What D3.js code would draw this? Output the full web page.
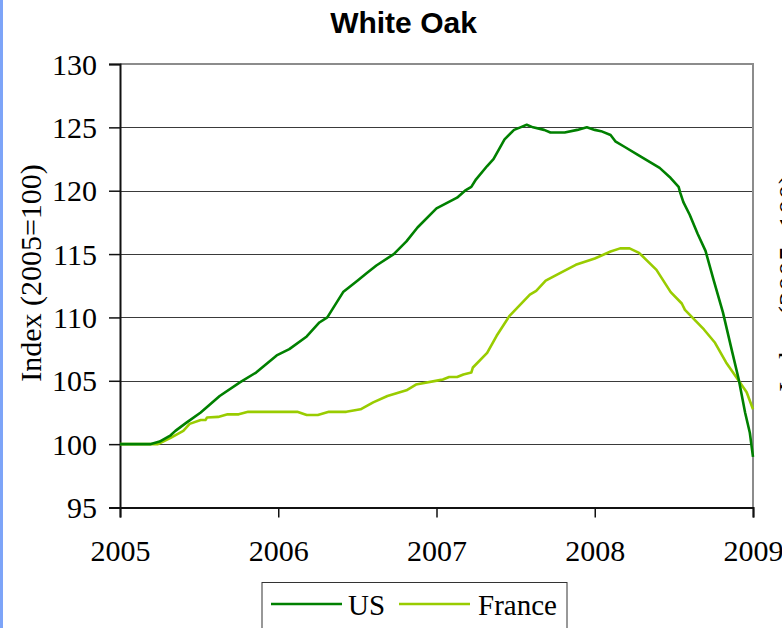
<!DOCTYPE html>
<html><head><meta charset="utf-8">
<script src="https://cdn.jsdelivr.net/npm/d3@7"></script>
<style>
html,body{margin:0;padding:0;background:#fff;overflow:hidden;}
svg{display:block;}
</style></head>
<body>
<script>
const title = "White Oak";
const yLabel = "Index (2005=100)";
const yTicks = [95,100,105,110,115,120,125,130];
const xTicks = [2005,2006,2007,2008,2009];
const seriesNames = ["US","France"];
const seriesColors = ["#008000","#99cc00"];

const usT = [2005.00,2005.19,2005.25,2005.32,2005.35,2005.42,2005.51,2005.63,2005.76,2005.86,2005.99,2006.07,2006.18,2006.26,2006.31,2006.41,2006.50,2006.56,2006.62,2006.73,2006.81,2006.88,2007.00,2007.13,2007.18,2007.22,2007.25,2007.32,2007.36,2007.43,2007.49,2007.53,2007.57,2007.61,2007.68,2007.72,2007.81,2007.89,2007.95,2008.00,2008.04,2008.10,2008.13,2008.19,2008.27,2008.41,2008.48,2008.53,2008.54,2008.56,2008.60,2008.65,2008.70,2008.75,2008.81,2008.87,2008.91,2008.95,2008.98,2009.00];
const usV = [100,100,100.2,100.7,101.05,101.7,102.5,103.8,104.9,105.65,107.0,107.5,108.5,109.6,110.0,112.0,112.9,113.5,114.1,115.0,116.0,117.1,118.6,119.45,120.0,120.3,120.9,121.95,122.5,124.05,124.8,125.0,125.2,125.0,124.8,124.6,124.6,124.8,125.0,124.8,124.7,124.4,123.9,123.45,122.85,121.8,121.0,120.3,119.85,119.1,118.1,116.6,115.25,113.0,110.4,107.2,105.1,102.5,100.9,99.0];

const frT = [2005.00,2005.24,2005.32,2005.40,2005.44,2005.51,2005.54,2005.55,2005.62,2005.68,2005.75,2005.81,2006.12,2006.18,2006.25,2006.32,2006.43,2006.52,2006.60,2006.69,2006.81,2006.87,2007.02,2007.04,2007.08,2007.13,2007.17,2007.22,2007.23,2007.32,2007.38,2007.46,2007.59,2007.63,2007.69,2007.78,2007.88,2008.00,2008.10,2008.16,2008.22,2008.28,2008.39,2008.48,2008.55,2008.57,2008.69,2008.76,2008.83,2008.91,2008.96,2009.00];
const frV = [100,100,100.5,101.05,101.6,101.9,101.9,102.1,102.15,102.35,102.35,102.55,102.55,102.3,102.3,102.55,102.55,102.75,103.3,103.8,104.25,104.7,105.05,105.1,105.3,105.3,105.5,105.65,106.05,107.2,108.55,110.1,111.8,112.1,112.9,113.5,114.15,114.65,115.2,115.45,115.45,115.1,113.75,112.0,111.1,110.6,109.05,108.0,106.45,105.0,104.1,102.75];

const W = 782, H = 628;
const svg = d3.select("body").append("svg").attr("width", W).attr("height", H);
const serif = "'Liberation Serif','Times New Roman',serif";

const x = d3.scaleLinear().domain([2005, 2009]).range([120, 753]);
const y = d3.scaleLinear().domain([95, 130]).range([507.5, 64]);

// left blue bar
svg.append("rect").attr("x", 0).attr("y", 0).attr("width", 3).attr("height", H).attr("fill", "#7da4f8");

// title
svg.append("text").attr("x", 403.5).attr("y", 33).attr("text-anchor", "middle")
  .attr("font-family", "'Liberation Sans',Arial,sans-serif").attr("font-weight", "bold")
  .attr("font-size", 30).text(title);

// gridlines
svg.append("g").selectAll("line").data(yTicks.filter(d => d > 95 && d < 130)).join("line")
  .attr("x1", x(2005)).attr("x2", x(2009))
  .attr("y1", d => Math.round(y(d)) + 0.5).attr("y2", d => Math.round(y(d)) + 0.5)
  .attr("stroke", "#3a3a3a").attr("stroke-width", 1);

// top and right borders
svg.append("line").attr("x1", x(2005)).attr("x2", x(2009) + 1).attr("y1", y(130)).attr("y2", y(130))
  .attr("stroke", "#8c8c8c").attr("stroke-width", 2);
svg.append("line").attr("x1", x(2009)).attr("x2", x(2009)).attr("y1", y(130)).attr("y2", y(95))
  .attr("stroke", "#8c8c8c").attr("stroke-width", 2);

// y axis
const yAxis = d3.axisLeft(y).tickValues(yTicks).tickSize(11).tickPadding(12).tickFormat(d3.format("d"));
const gy = svg.append("g").attr("transform", `translate(${x(2005)},0)`).call(yAxis);
gy.select(".domain").attr("stroke", "#111").attr("stroke-width", 2);
gy.selectAll(".tick line").attr("stroke", "#111").attr("stroke-width", 1.5);
gy.selectAll(".tick text").attr("font-family", serif).attr("font-size", 30).attr("fill", "#000").attr("dy", "0.34em");

// x axis
const xAxis = d3.axisBottom(x).tickValues(xTicks).tickSize(10).tickPadding(22).tickFormat(d3.format("d"));
const gx = svg.append("g").attr("transform", `translate(0,${y(95)})`).call(xAxis);
gx.select(".domain").attr("stroke", "#111").attr("stroke-width", 2);
gx.selectAll(".tick line").attr("stroke", "#111").attr("stroke-width", 1.5);
gx.selectAll(".tick text").attr("font-family", serif).attr("font-size", 30).attr("fill", "#000");

// y label
svg.append("text").attr("transform", "translate(41,273) rotate(-90)").attr("text-anchor", "middle")
  .attr("font-family", serif).attr("font-size", 30).text(yLabel);
// neighbouring chart label (clipped)
svg.append("text").attr("transform", "translate(799,283) rotate(-90)").attr("text-anchor", "middle")
  .attr("font-family", serif).attr("font-size", 30).text(yLabel);

// lines
const line = d3.line().x(d => x(d[0])).y(d => y(d[1]));
const series = [
  usT.map((t, i) => [t, usV[i]]),
  frT.map((t, i) => [t, frV[i]])
];
// draw France first then US? US appears over France at start
[1, 0].forEach(i => {
  svg.append("path").datum(series[i]).attr("d", line).attr("fill", "none")
    .attr("stroke", seriesColors[i]).attr("stroke-width", 2.6).attr("stroke-linejoin", "round");
});

// legend
const lg = svg.append("g");
lg.append("rect").attr("x", 262).attr("y", 582.5).attr("width", 305).attr("height", 60)
  .attr("fill", "#fff").attr("stroke", "#333").attr("stroke-width", 1);
const legX = [[271, 342, 348], [399, 470, 478]];
seriesNames.forEach((n, i) => {
  lg.append("line").attr("x1", legX[i][0]).attr("x2", legX[i][1]).attr("y1", 604).attr("y2", 604)
    .attr("stroke", seriesColors[i]).attr("stroke-width", 2.6);
  lg.append("text").attr("x", legX[i][2]).attr("y", 615).attr("font-family", serif)
    .attr("font-size", 29).text(n);
});
</script>
</body></html>
